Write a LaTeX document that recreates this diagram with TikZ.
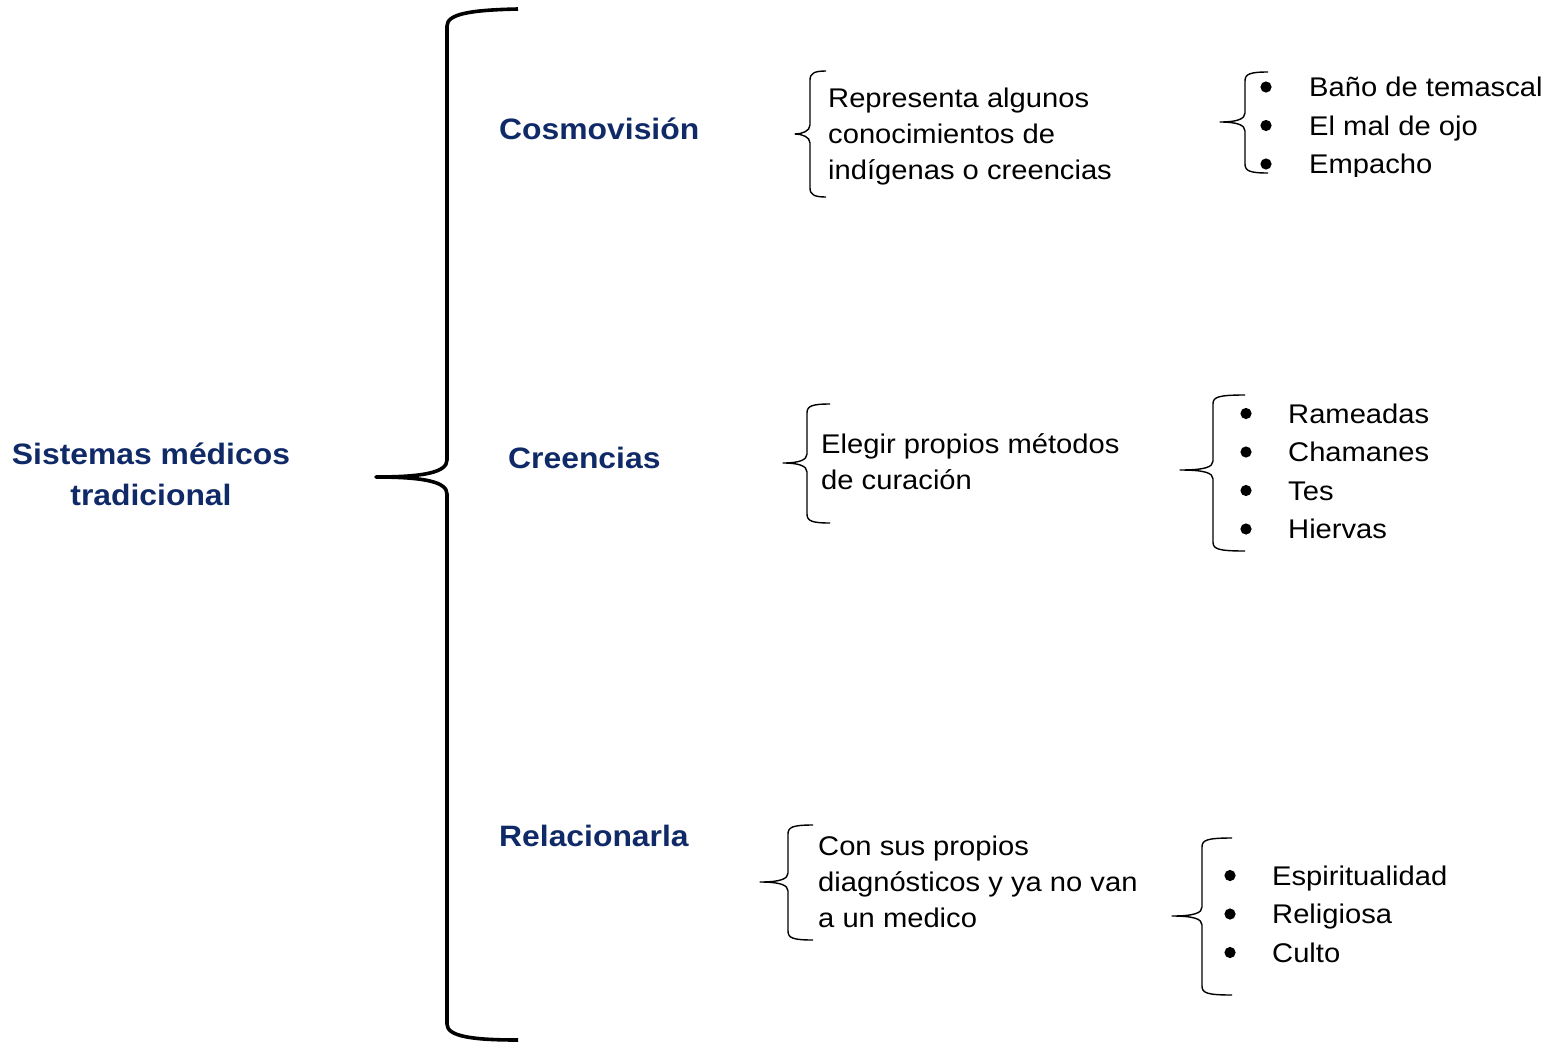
\documentclass[tikz,border=0pt]{standalone}
\usepackage{fontspec}
\setmainfont[FakeStretch=1.08]{Liberation Sans}
\definecolor{navy}{RGB}{16,42,104}
\tikzset{
  bigbrace/.style={line width=3.6pt, line join=round, line cap=butt},
  smallbrace/.style={line width=1.4pt, line join=round},
  head/.style={font=\fontsize{29.5}{41}\selectfont\bfseries, text=navy, inner sep=0pt, anchor=base west},
  para/.style={font=\fontsize{27}{36}\selectfont, inner sep=0pt, anchor=base west},
  blist/.style={font=\fontsize{27}{38.5}\selectfont, inner sep=0pt, anchor=base west},
  bulletdot/.style={fill=black},
}
% xend, xv, xtip, ytop, ymid, ybot
\newcommand\mybrace[6]{%
  \draw[smallbrace] (#1,#4) .. controls (#2+5,#4) and (#2,#4+2) .. (#2,#4+9)
    -- (#2,#5-9) .. controls (#2,#5-3) and (#2-8,#5) .. (#3,#5)
    .. controls (#2-8,#5) and (#2,#5+3) .. (#2,#5+9)
    -- (#2,#6-9) .. controls (#2,#6-2) and (#2+5,#6) .. (#1,#6);}
\begin{document}
\begin{tikzpicture}[x=1pt,y=-1pt]
\useasboundingbox (0,0) rectangle (1547,1042);

% root
\node[head, anchor=base] (root) at (151,464)
  {\begin{tabular}[t]{@{}c@{}}Sistemas médicos\\tradicional\end{tabular}};

% big brace
\draw[bigbrace] (518,9) .. controls (470,10) and (447,14) .. (447,26)
  -- (447,460) .. controls (447,472) and (425,477) .. (376,477)
  .. controls (425,477) and (447,482) .. (447,494)
  -- (447,1024) .. controls (447,1036) and (470,1040) .. (518,1040);

% headings
\node[head] (cosmo) at (499,139) {Cosmovisión};
\node[head] (cree) at (508,468) {Creencias};
\node[head] (rel) at (499,846) {Relacionarla};

% Cosmovision row
\mybrace{826}{810}{795}{71}{134}{197}
\node[para] (cosmoT) at (828,107.5)
  {\begin{tabular}[t]{@{}l@{}}Representa algunos\\conocimientos de\\indígenas o creencias\end{tabular}};
\mybrace{1268}{1245}{1220}{72}{122}{173}
\begin{scope}
  \clip (1250,60) rectangle (1547,176);
  \node[blist] (cosmoL) at (1309,96.5)
    {\begin{tabular}[t]{@{}l@{}}Baño de temascal\\El mal de ojo\\Empacho\end{tabular}};
\end{scope}
\foreach \k in {0,1,2} \fill[bulletdot] (1266,87+38.5*\k) circle (5.6pt);

% Creencias row
\mybrace{830}{807}{783}{404}{463}{523}
\node[para] (creeT) at (821,453.5)
  {\begin{tabular}[t]{@{}l@{}}Elegir propios métodos\\de curación\end{tabular}};
\mybrace{1245}{1213}{1180}{395}{470}{551}
\node[blist] (creeL) at (1288,423)
  {\begin{tabular}[t]{@{}l@{}}Rameadas\\Chamanes\\Tes\\Hiervas\end{tabular}};
\foreach \k in {0,1,2,3} \fill[bulletdot] (1246,413.5+38.5*\k) circle (5.6pt);

% Relacionarla row
\mybrace{813}{788}{760}{825}{882}{940}
\node[para] (relT) at (818,855)
  {\begin{tabular}[t]{@{}l@{}}Con sus propios\\diagnósticos y ya no van\\a un medico\end{tabular}};
\mybrace{1232}{1202}{1172}{838}{916}{995}
\node[blist] (relL) at (1272,885)
  {\begin{tabular}[t]{@{}l@{}}Espiritualidad\\Religiosa\\Culto\end{tabular}};
\foreach \k in {0,1,2} \fill[bulletdot] (1230,875.5+38.5*\k) circle (5.6pt);
\end{tikzpicture}
\end{document}
